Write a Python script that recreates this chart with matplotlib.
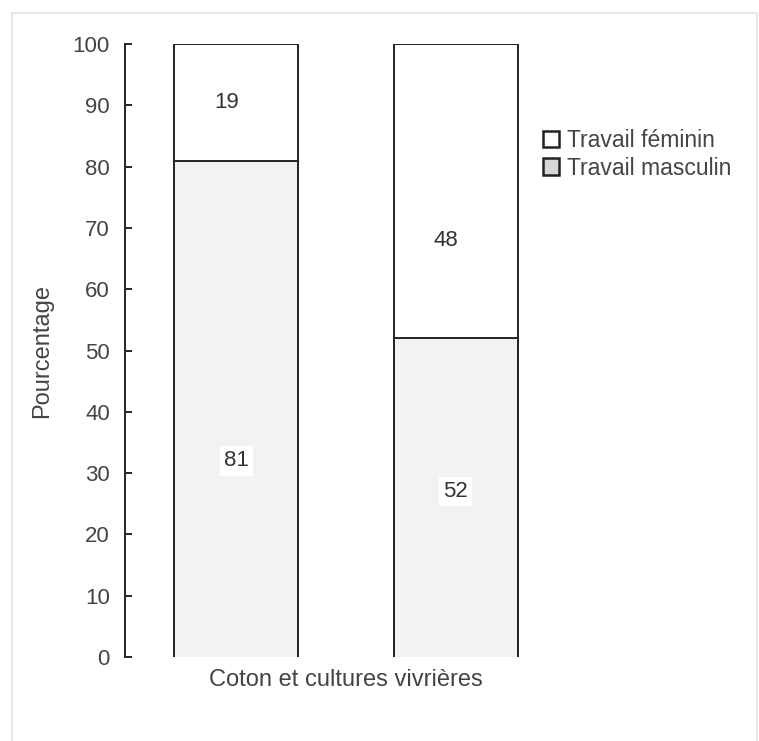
import matplotlib.pyplot as plt
from matplotlib.patches import Rectangle

plt.rcParams['font.family'] = ['Liberation Sans', 'DejaVu Sans']

categories = ['Coton', 'Cultures vivrières']
masculin = [81, 52]
feminin = [19, 48]
xlabel = 'Coton et cultures vivrières'

# where the value labels sit inside the bars (as in the original)
label_y_masc = [32, 27]
label_y_fem = [90.5, 68]

fig = plt.figure(figsize=(7.59, 7.41), dpi=100)
fig.patches.append(Rectangle((0.0158, -0.01), 0.982, 0.9925, transform=fig.transFigure,
                             fill=False, edgecolor='#e2e2e2', linewidth=1.2))
ax = fig.add_axes([0.165, 0.1134, 0.534, 0.827])

x = list(range(len(categories)))
w = 0.566
ax.bar(x, masculin, width=w, color='#f2f2f2', edgecolor='none')
ax.bar(x, feminin, width=w, bottom=masculin, color='white', edgecolor='none')

# outline without bottom edge
for xi, m, f in zip(x, masculin, feminin):
    top = m + f
    ax.plot([xi - w / 2, xi - w / 2, xi + w / 2, xi + w / 2], [0, top, top, 0],
            color='#222222', lw=1.4, solid_joinstyle='miter')
    ax.plot([xi - w / 2, xi + w / 2], [m, m], color='#222222', lw=1.4)

for xi, m, f, ym, yf in zip(x, masculin, feminin, label_y_masc, label_y_fem):
    ax.text(xi, ym, str(m), ha='center', va='center', fontsize=16, color='#333333',
            bbox=dict(facecolor='white', edgecolor='none', pad=3))
    ax.text(xi - 0.045, yf, str(f), ha='center', va='center', fontsize=16, color='#333333')

ax.set_xlim(-0.507, 1.342)
ax.set_ylim(0, 100)
ax.set_yticks(range(0, 101, 10))
ax.tick_params(axis='y', direction='in', length=5, width=1.2, pad=11,
               labelsize=16, labelcolor='#444444')
ax.set_xticks([0.5])
ax.set_xticklabels([xlabel])
ax.tick_params(axis='x', length=0, pad=9, labelsize=17, labelcolor='#444444')
for s in ['top', 'right', 'bottom']:
    ax.spines[s].set_visible(False)
ax.spines['left'].set_linewidth(1.4)
ax.spines['left'].set_color('#222222')
ax.set_ylabel('Pourcentage', fontsize=17, color='#444444', labelpad=14)

h1 = Rectangle((0, 0), 1, 1, facecolor='white', edgecolor='#222222', linewidth=1.8)
h2 = Rectangle((0, 0), 1, 1, facecolor='#d6d6d6', edgecolor='#222222', linewidth=1.8)
leg = fig.legend([h1, h2], ['Travail féminin', 'Travail masculin'],
                 loc='upper left', bbox_to_anchor=(0.715, 0.826), frameon=False,
                 fontsize=16.5, handlelength=0.7, handleheight=0.7,
                 handletextpad=0.35, labelspacing=0.2, borderaxespad=0, borderpad=0)
for t in leg.get_texts():
    t.set_color('#444444')

fig.savefig('out.png', dpi=100)
